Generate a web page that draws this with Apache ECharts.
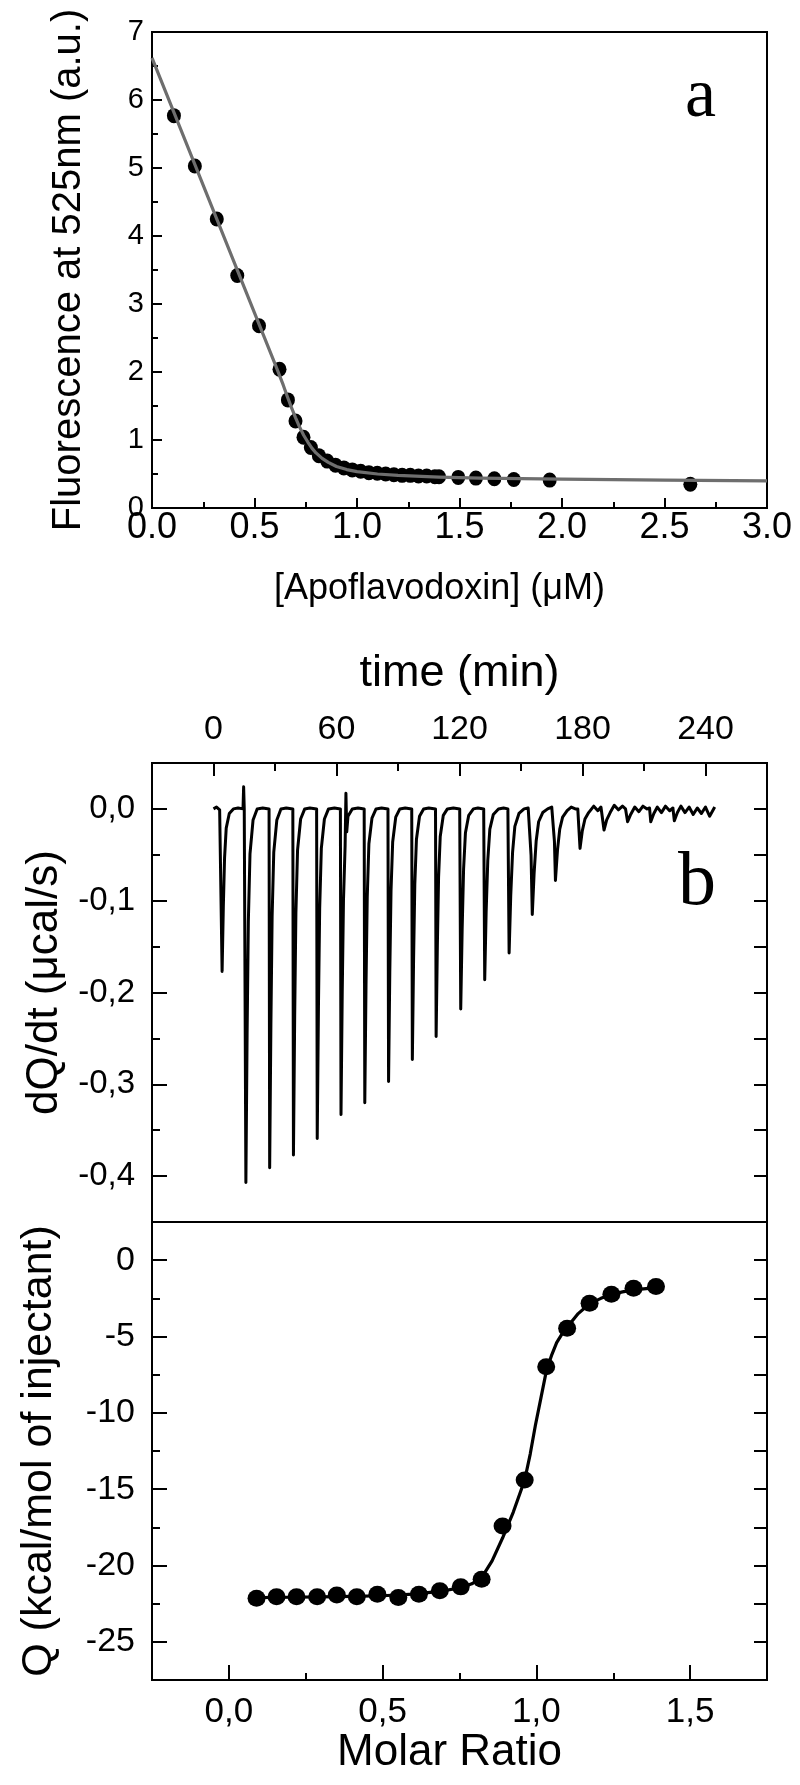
<!DOCTYPE html>
<html>
<head>
<meta charset="utf-8">
<title>Apoflavodoxin binding</title>
<script src="https://cdn.jsdelivr.net/npm/echarts@6.0.0/dist/echarts.min.js"></script>
<style>
html,body{margin:0;padding:0;background:#fff;}
#chart{width:800px;height:1785px;}
</style>
</head>
<body>
<div id="chart"></div>
<script>
// panel a : fluorescence titration
var fluorConc = [0.107, 0.209, 0.316, 0.416, 0.522, 0.622, 0.663, 0.700, 0.739, 0.775, 0.814, 0.855, 0.895, 0.936,
    0.977, 1.018, 1.058, 1.099, 1.140, 1.180, 1.220, 1.260, 1.300, 1.340, 1.380, 1.400, 1.494, 1.580, 1.670, 1.765, 1.940, 2.626];
var fluorSignal = [5.77, 5.03, 4.25, 3.42, 2.68, 2.04, 1.59, 1.28, 1.04, 0.89, 0.77, 0.69, 0.63, 0.59,
    0.56, 0.54, 0.52, 0.51, 0.50, 0.49, 0.48, 0.48, 0.47, 0.47, 0.46, 0.46, 0.45, 0.44, 0.43, 0.42, 0.41, 0.35];
var fitConc = [0, 0.6, 0.64, 0.66, 0.68, 0.70, 0.72, 0.74, 0.76, 0.78, 0.80, 0.83, 0.86, 0.90, 0.95, 1.0, 1.1, 1.2, 1.4, 1.6, 2.0, 2.5, 3.0];
var fitSignal = [6.62, 2.12, 1.81, 1.64, 1.48, 1.33, 1.19, 1.07, 0.97, 0.88, 0.81, 0.73, 0.67, 0.61, 0.565, 0.535, 0.50, 0.48, 0.455, 0.44, 0.425, 0.41, 0.40];

// panel b top : raw ITC trace (one row per injection)
var itcTime = [
    0, 1.5, 3.0, 3.9, 4.2, 4.8, 5.4, 6.2, 7.7, 9.7, 12.0, 14.4, 14.7, 15.0,
    15.5, 15.8, 16.4, 17.0, 17.8, 19.3, 21.3, 24.0,
    27.1, 27.4, 28.0, 28.6, 29.4, 30.9, 32.9, 35.5,
    38.7, 39.0, 39.6, 40.2, 41.0, 42.5, 44.5, 47.0,
    50.3, 50.6, 51.2, 51.8, 52.6, 54.1, 56.1, 59.0,
    61.9, 62.2, 62.8, 63.4, 64.2, 64.6, 65.0, 65.6, 67.7, 70.5,
    73.5, 73.8, 74.4, 75.0, 75.8, 77.3, 79.3, 82.0,
    85.1, 85.4, 86.0, 86.6, 87.4, 88.9, 90.9, 93.5,
    96.7, 97.0, 97.6, 98.2, 99.0, 100.5, 102.5, 105.0,
    108.3, 108.6, 109.2, 109.8, 110.6, 112.1, 114.1, 117.0,
    120.1, 120.6, 121.3, 122.0, 122.9, 124.5, 126.8, 129.0,
    131.8, 132.3, 133.0, 133.8, 134.8, 136.5, 139.0, 141.5,
    143.6, 144.2, 145.0, 145.9, 147.0, 149.0, 151.5, 153.5,
    154.2, 154.9, 155.5, 156.4, 157.4, 158.6, 160.6, 163.0, 165.0,
    165.8, 166.3, 166.8, 167.8, 168.9, 170.3, 172.5, 174.5, 176.5,
    177.7, 178.2, 178.8, 179.9, 181.2, 183.0, 185.5, 187.5, 189.0,
    189.8, 190.5, 191.8, 193.5, 195.5, 197.5, 199.5, 201.0,
    201.4, 202.0, 203.5, 205.5, 207.5, 209.5, 211.5, 212.7,
    213.3, 214.8, 216.5, 218.5, 220.5, 222.5, 224.1,
    224.8, 226.3, 228.0, 230.0, 232.0, 234.0, 236.0, 238.0, 240.0, 242.0, 243.5, 244.5
];
var itcPower = [
    0.000, 0.002, -0.001, 0.000, -0.177, -0.106, -0.053, -0.021, -0.005, 0.000, 0.001, 0.000, 0.024, 0.000,
    0.000, -0.407, -0.244, -0.122, -0.049, -0.012, 0.000, 0.001,
    0.000, -0.391, -0.235, -0.117, -0.047, -0.012, 0.000, 0.001,
    0.000, -0.377, -0.226, -0.113, -0.045, -0.011, 0.000, 0.001,
    0.000, -0.359, -0.215, -0.108, -0.043, -0.011, 0.000, 0.001,
    0.000, -0.333, -0.200, -0.100, -0.040, 0.017, -0.025, -0.008, 0.000, 0.001,
    0.000, -0.320, -0.192, -0.096, -0.038, -0.010, 0.000, 0.001,
    0.000, -0.297, -0.178, -0.089, -0.036, -0.009, 0.000, 0.001,
    0.000, -0.273, -0.164, -0.082, -0.033, -0.008, 0.000, 0.001,
    0.000, -0.248, -0.149, -0.074, -0.030, -0.007, 0.000, 0.001,
    0.000, -0.218, -0.131, -0.065, -0.026, -0.007, 0.000, 0.001,
    0.000, -0.186, -0.112, -0.056, -0.022, -0.006, 0.000, 0.001,
    0.000, -0.157, -0.094, -0.047, -0.019, -0.005, 0.000, 0.001,
    0.000, -0.050, -0.115, -0.070, -0.035, -0.014, -0.004, 0.000, 0.002,
    0.000, -0.035, -0.078, -0.045, -0.022, -0.009, -0.002, 0.002, 0.000,
    0.000, -0.020, -0.043, -0.024, -0.011, -0.004, 0.003, -0.002, 0.002,
    0.000, -0.023, -0.012, -0.004, 0.004, -0.001, 0.003, 0.000,
    0.001, -0.014, -0.006, 0.002, -0.003, 0.003, 0.000, 0.001,
    -0.014, -0.005, 0.002, -0.004, 0.003, -0.002, 0.001,
    -0.013, -0.004, 0.003, -0.004, 0.002, -0.006, 0.001, -0.005, 0.002, -0.008, -0.002, 0.002
];

// panel b bottom : integrated heats
var molarRatio = [0.090, 0.155, 0.220, 0.287, 0.351, 0.416, 0.483, 0.551, 0.618, 0.686,
    0.754, 0.822, 0.890, 0.962, 1.032, 1.100, 1.173, 1.244, 1.316, 1.389];
var heatQ = [-22.14, -22.04, -22.04, -22.04, -21.93, -22.04, -21.88, -22.10, -21.88, -21.66,
    -21.40, -20.90, -17.41, -14.40, -6.98, -4.46, -2.82, -2.23, -1.84, -1.73];
var heatFitRatio = [0.090, 0.2, 0.3, 0.4, 0.5, 0.6, 0.686, 0.754, 0.79, 0.822, 0.856, 0.890, 0.925, 0.962, 0.98,
    0.997, 1.015, 1.032, 1.05, 1.066, 1.083, 1.100, 1.136, 1.173, 1.21, 1.244, 1.28, 1.316, 1.389];
var heatFit = [-22.10, -22.08, -22.05, -22.02, -21.98, -21.88, -21.70, -21.45, -21.20, -20.80, -19.70, -18.20, -16.50, -14.40, -12.70,
    -10.80, -9.00, -7.30, -6.20, -5.40, -4.85, -4.40, -3.50, -2.85, -2.50, -2.25, -2.08, -1.95, -1.80];

// tick positions
var timeTicks = [0, 60, 120, 180, 240];
var timeMinorTicks = [30, 90, 150, 210];
var powerTicks = [0, -0.1, -0.2, -0.3, -0.4];
var powerMinorTicks = [-0.05, -0.15, -0.25, -0.35];
var powerRightTicks = [0, -0.05, -0.1, -0.15, -0.2, -0.25, -0.3, -0.35, -0.4];
var ratioTicks = [0, 0.5, 1, 1.5];
var ratioMinorTicks = [0.25, 0.75, 1.25];
var heatTicks = [0, -5, -10, -15, -20, -25];
var heatMinorTicks = [-2.5, -7.5, -12.5, -17.5, -22.5];
var heatRightTicks = [0, -2.5, -5, -7.5, -10, -12.5, -15, -17.5, -20, -22.5, -25];

var SANS = "'Liberation Sans', Arial, sans-serif";
var NARROW = "'Liberation Sans Narrow', 'Arial Narrow', 'Liberation Sans', sans-serif";
var SERIF = "'Liberation Serif', 'Times New Roman', serif";

function pairs(xs, ys) {
    return xs.map(function (x, i) { return [x, ys[i]]; });
}
function comma(v) {
    return v.toFixed(1).replace('.', ',');
}

// an axis that only draws a set of inside ticks (used for minor ticks and the right-hand ticks)
function tickOnlyAxis(grid, position, min, max, values, len) {
    return {
        type: 'value', gridIndex: grid, position: position, min: min, max: max,
        axisLine: {show: false, onZero: false},
        axisTick: {show: true, inside: true, length: len, customValues: values, lineStyle: {color: '#000', width: 2}},
        axisLabel: {show: false},
        splitLine: {show: false}
    };
}

var chart = echarts.init(document.getElementById('chart'));

var lineAxis = {show: true, onZero: false, lineStyle: {color: '#000', width: 2}};

var option = {
    animation: false,
    backgroundColor: '#fff',
    grid: [
        {left: 152, top: 32, width: 615, height: 476, show: true, borderColor: '#000', borderWidth: 2, outerBoundsMode: 'none'},
        {left: 152, top: 763, width: 615, height: 459, show: true, borderColor: '#000', borderWidth: 2, outerBoundsMode: 'none'},
        {left: 152, top: 1222, width: 615, height: 458, show: true, borderColor: '#000', borderWidth: 2, outerBoundsMode: 'none'}
    ],
    xAxis: [
        {
            type: 'value', gridIndex: 0, position: 'bottom', min: 0, max: 3, interval: 0.5,
            axisLine: lineAxis,
            axisTick: {inside: true, length: 10, lineStyle: {color: '#000', width: 2}},
            minorTick: {show: true, splitNumber: 2, length: 6, lineStyle: {color: '#000', width: 2}},
            axisLabel: {margin: 2, color: '#000', fontSize: 36, fontFamily: NARROW,
                formatter: function (v) { return v.toFixed(1); }},
            splitLine: {show: false},
            name: '[Apoflavodoxin] (\u03bcM)', nameLocation: 'middle', nameGap: 63,
            nameTextStyle: {color: '#000', fontSize: 36, fontFamily: SANS, padding: [0, 40, 0, 0]}
        },
        {
            type: 'value', gridIndex: 1, position: 'top', min: -30, max: 270,
            axisLine: lineAxis,
            axisTick: {inside: true, length: 13, customValues: timeTicks, lineStyle: {color: '#000', width: 2}},
            axisLabel: {margin: 16, color: '#000', fontSize: 34, fontFamily: SANS, customValues: timeTicks},
            splitLine: {show: false},
            name: 'time (min)', nameLocation: 'middle', nameGap: 67,
            nameTextStyle: {color: '#000', fontSize: 45, fontFamily: SANS}
        },
        tickOnlyAxis(1, 'top', -30, 270, timeMinorTicks, 8),
        {
            type: 'value', gridIndex: 2, position: 'bottom', min: -0.25, max: 1.75,
            axisLine: lineAxis,
            axisTick: {inside: true, length: 15, customValues: ratioTicks, lineStyle: {color: '#000', width: 2}},
            axisLabel: {margin: 15, color: '#000', fontSize: 35, fontFamily: SANS, customValues: ratioTicks, formatter: comma},
            splitLine: {show: false},
            name: 'Molar Ratio', nameLocation: 'middle', nameGap: 47,
            nameTextStyle: {color: '#000', fontSize: 44, fontFamily: SANS, padding: [0, 20, 0, 0]}
        },
        tickOnlyAxis(2, 'bottom', -0.25, 1.75, ratioMinorTicks, 7)
    ],
    yAxis: [
        {
            type: 'value', gridIndex: 0, position: 'left', min: 0, max: 7, interval: 1,
            axisLine: lineAxis,
            axisTick: {inside: true, length: 10, lineStyle: {color: '#000', width: 2}},
            minorTick: {show: true, splitNumber: 2, length: 6, lineStyle: {color: '#000', width: 2}},
            axisLabel: {margin: 8, color: '#000', fontSize: 29, fontFamily: SANS},
            splitLine: {show: false},
            name: 'Fluorescence at 525nm (a.u.)', nameLocation: 'middle', nameGap: 63,
            nameTextStyle: {color: '#000', fontSize: 40, fontFamily: SANS}
        },
        {
            type: 'value', gridIndex: 1, position: 'left', min: -0.45, max: 0.05,
            axisLine: lineAxis,
            axisTick: {inside: true, length: 15, customValues: powerTicks, lineStyle: {color: '#000', width: 2}},
            axisLabel: {margin: 17, color: '#000', fontSize: 33, fontFamily: SANS, customValues: powerTicks, formatter: comma},
            splitLine: {show: false},
            name: 'dQ/dt (\u03bccal/s)', nameLocation: 'middle', nameGap: 78,
            nameTextStyle: {color: '#000', fontSize: 44, fontFamily: SANS, padding: [0, 0, 0, 20]}
        },
        tickOnlyAxis(1, 'left', -0.45, 0.05, powerMinorTicks, 8),
        tickOnlyAxis(1, 'right', -0.45, 0.05, powerRightTicks, 13),
        {
            type: 'value', gridIndex: 2, position: 'left', min: -27.5, max: 2.5,
            axisLine: lineAxis,
            axisTick: {inside: true, length: 15, customValues: heatTicks, lineStyle: {color: '#000', width: 2}},
            axisLabel: {margin: 17, color: '#000', fontSize: 34, fontFamily: SANS, customValues: heatTicks},
            splitLine: {show: false},
            name: 'Q (kcal/mol of injectant)', nameLocation: 'middle', nameGap: 91,
            nameTextStyle: {color: '#000', fontSize: 43, fontFamily: SANS}
        },
        tickOnlyAxis(2, 'left', -27.5, 2.5, heatMinorTicks, 8),
        tickOnlyAxis(2, 'right', -27.5, 2.5, heatRightTicks, 13)
    ],
    graphic: [
        {type: 'text', left: 685, top: 63, style: {text: 'a', font: '70px ' + SERIF, fill: '#000'}},
        {type: 'text', left: 678, top: 846, style: {text: 'b', font: '76px ' + SERIF, fill: '#000'}}
    ],
    series: [
        {
            type: 'scatter', xAxisIndex: 0, yAxisIndex: 0, z: 2,
            symbol: 'circle', symbolSize: [14, 15],
            itemStyle: {color: '#000', opacity: 1},
            data: pairs(fluorConc, fluorSignal)
        },
        {
            type: 'line', xAxisIndex: 0, yAxisIndex: 0, z: 3,
            showSymbol: false,
            lineStyle: {color: '#6e6e6e', width: 3.2, join: 'round'},
            data: pairs(fitConc, fitSignal)
        },
        {
            type: 'line', xAxisIndex: 1, yAxisIndex: 1,
            showSymbol: false,
            lineStyle: {color: '#000', width: 3, join: 'round'},
            data: pairs(itcTime, itcPower)
        },
        {
            type: 'line', xAxisIndex: 3, yAxisIndex: 4, z: 2,
            showSymbol: false,
            lineStyle: {color: '#000', width: 3.2, join: 'round'},
            data: pairs(heatFitRatio, heatFit)
        },
        {
            type: 'scatter', xAxisIndex: 3, yAxisIndex: 4, z: 3,
            symbol: 'circle', symbolSize: [18, 17],
            itemStyle: {color: '#000', opacity: 1},
            data: pairs(molarRatio, heatQ)
        }
    ]
};
chart.setOption(option);
</script>
</body>
</html>
